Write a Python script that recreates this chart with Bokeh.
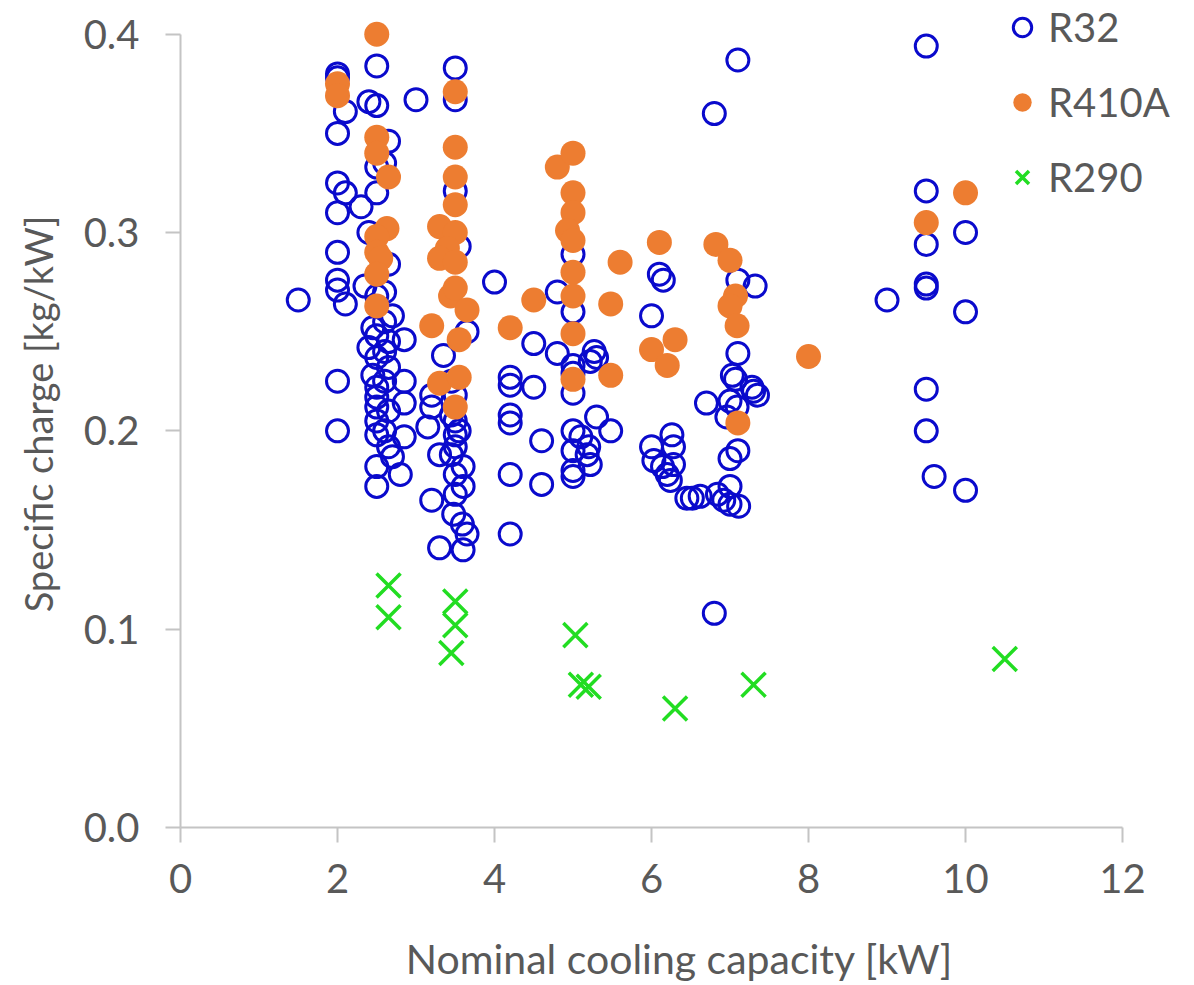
from bokeh.plotting import figure
from bokeh.models import Range1d, FixedTicker, PrintfTickFormatter
from bokeh.embed import file_html
from bokeh.resources import INLINE

# ---- data ----
r32_x = [1.5,
         2.0, 2.0, 2.1, 2.0, 2.0, 2.1, 2.0, 2.0, 2.0, 2.0, 2.1, 2.0, 2.0,
         2.4, 2.3, 2.4, 2.35, 2.4,
         2.5, 2.5, 2.5, 2.5, 2.5, 2.45, 2.5, 2.5, 2.45, 2.5, 2.5, 2.5, 2.5, 2.5, 2.5, 2.5,
         2.65, 2.6, 2.65, 2.6, 2.7, 2.6, 2.65, 2.6, 2.65, 2.6, 2.65, 2.6, 2.65, 2.7,
         2.85, 2.85, 2.85, 2.85, 2.8,
         3.0,
         3.35, 3.2, 3.2, 3.15, 3.3, 3.2, 3.3,
         3.5, 3.5, 3.5, 3.55, 3.65, 3.45, 3.5, 3.45, 3.5, 3.55, 3.5, 3.5, 3.45, 3.6, 3.5, 3.6, 3.5, 3.48, 3.59, 3.65, 3.6,
         4.0,
         4.2, 4.2, 4.2, 4.2, 4.2, 4.2,
         4.5, 4.5, 4.6, 4.6,
         4.8, 4.8,
         5.0, 5.0, 5.0, 5.0, 5.0, 5.0, 5.0, 5.0, 5.0,
         5.1, 5.2, 5.27, 5.3, 5.22, 5.3, 5.18, 5.22,
         5.48,
         6.1, 6.15, 6.0, 6.0, 6.03, 6.14, 6.2, 6.24, 6.28, 6.28, 6.26,
         6.8, 7.1, 7.1, 7.32, 7.1, 7.03, 7.07, 7.28, 7.3, 7.35, 6.7, 7.0, 7.09, 6.96, 7.1, 7.0,
         6.45, 6.52, 6.62, 6.84, 6.92, 7.0, 7.0, 7.11, 6.8,
         9.5, 9.5, 9.5, 10.0, 9.5, 9.5, 9.0, 10.0, 9.5, 9.5, 9.6, 10.0]
r32_y = [0.266,
         0.380, 0.378, 0.361, 0.350, 0.325, 0.320, 0.310, 0.290, 0.276, 0.271, 0.264, 0.225, 0.200,
         0.366, 0.313, 0.300, 0.273, 0.242,
         0.384, 0.364, 0.333, 0.320, 0.268, 0.252, 0.248, 0.237, 0.228, 0.222, 0.217, 0.212, 0.205, 0.198, 0.182, 0.172,
         0.346, 0.335, 0.284, 0.270, 0.258, 0.255, 0.245, 0.240, 0.232, 0.225, 0.210, 0.200, 0.192, 0.187,
         0.246, 0.225, 0.214, 0.197, 0.178,
         0.367,
         0.238, 0.218, 0.212, 0.202, 0.188, 0.165, 0.141,
         0.383, 0.367, 0.321, 0.293, 0.250, 0.225, 0.218, 0.208, 0.205, 0.200, 0.198, 0.192, 0.188, 0.182, 0.178, 0.172, 0.168, 0.158, 0.153, 0.148, 0.140,
         0.275,
         0.227, 0.223, 0.208, 0.204, 0.178, 0.148,
         0.244, 0.222, 0.195, 0.173,
         0.270, 0.239,
         0.289, 0.260, 0.233, 0.229, 0.219, 0.200, 0.190, 0.180, 0.177,
         0.197, 0.192, 0.240, 0.237, 0.235, 0.207, 0.188, 0.183,
         0.200,
         0.279, 0.276, 0.258, 0.192, 0.185, 0.182, 0.178, 0.175, 0.183, 0.192, 0.198,
         0.360, 0.387, 0.276, 0.273, 0.239, 0.228, 0.226, 0.222, 0.220, 0.218, 0.214, 0.215, 0.212, 0.207, 0.190, 0.186,
         0.166, 0.166, 0.167, 0.168, 0.165, 0.172, 0.163, 0.162, 0.108,
         0.394, 0.321, 0.294, 0.300, 0.274, 0.272, 0.266, 0.260, 0.221, 0.200, 0.177, 0.170]

r410a_x = [2.0, 2.0, 2.5, 2.5, 2.5, 2.65, 2.63, 2.5, 2.5, 2.55, 2.5, 2.5,
           3.5, 3.5, 3.5, 3.5, 3.3, 3.5, 3.4, 3.3, 3.5, 3.44, 3.5, 3.65, 3.2, 3.55, 3.3, 3.55, 3.5,
           4.2, 4.5, 4.8, 5.0, 5.0, 5.0, 4.93, 5.0, 5.0, 5.0, 5.0, 5.0, 5.48, 5.48, 5.6,
           6.1, 6.0, 6.3, 6.2, 6.82, 7.0, 7.07, 7.0, 7.09, 7.1, 8.0, 9.5, 10.0]
r410a_y = [0.375, 0.369, 0.400, 0.348, 0.340, 0.328, 0.302, 0.298, 0.290, 0.287, 0.279, 0.263,
           0.371, 0.343, 0.328, 0.314, 0.303, 0.300, 0.292, 0.287, 0.285, 0.268, 0.272, 0.261, 0.253, 0.246, 0.224, 0.227, 0.212,
           0.252, 0.266, 0.333, 0.340, 0.320, 0.310, 0.301, 0.296, 0.280, 0.268, 0.249, 0.226, 0.264, 0.228, 0.285,
           0.295, 0.241, 0.246, 0.233, 0.294, 0.286, 0.268, 0.263, 0.253, 0.204, 0.2375, 0.305, 0.320]

r290_x = [2.65, 2.65, 3.5, 3.5, 3.45, 5.03, 5.1, 5.2, 6.3, 7.3, 10.5]
r290_y = [0.122, 0.106, 0.114, 0.102, 0.088, 0.097, 0.072, 0.071, 0.060, 0.072, 0.085]

x_ticks = [0, 2, 4, 6, 8, 10, 12]
y_ticks = [0.0, 0.1, 0.2, 0.3, 0.4]

series_names = ["R32", "R410A", "R290"]

# ---- styling ----
TXT = "#595959"
AX = "#c4c4c4"
FONT = "Lato"

p = figure(width=1178, height=985,
           x_range=Range1d(0, 12.713), y_range=Range1d(0, 0.417),
           output_backend="svg", toolbar_location=None,
           min_border_left=180, min_border_right=0, min_border_top=0, min_border_bottom=152)
p.xgrid.visible = False
p.ygrid.visible = False
p.outline_line_color = None
p.background_fill_color = "white"
p.border_fill_color = "white"

p.scatter(r32_x, r32_y, marker="circle", size=22, fill_color=None,
          line_color="#0a0acc", line_width=3, legend_label=series_names[0])
p.scatter(r410a_x, r410a_y, marker="circle", size=25, fill_color="#ed7d31",
          line_color=None, legend_label=series_names[1])
p.scatter(r290_x, r290_y, marker="x", size=34, line_color="#22dd22",
          line_width=3.5, legend_label=series_names[2])

for ax in (p.xaxis[0], p.yaxis[0]):
    ax.axis_line_color = AX
    ax.axis_line_width = 2
    ax.major_tick_line_color = AX
    ax.major_tick_line_width = 2
    ax.major_tick_out = 15
    ax.major_tick_in = 0
    ax.minor_tick_line_color = None
    ax.major_label_text_font = FONT
    ax.major_label_text_font_size = "40px"
    ax.major_label_text_color = TXT
    ax.axis_label_text_font = FONT
    ax.axis_label_text_font_style = "normal"
    ax.axis_label_text_color = TXT

xa = p.xaxis[0]
xa.bounds = (0, 12)
xa.ticker = FixedTicker(ticks=x_ticks)
xa.axis_label = "Nominal cooling capacity [kW]"
xa.axis_label_text_font_size = "41px"
xa.major_label_standoff = 21
xa.axis_label_standoff = 38

ya = p.yaxis[0]
ya.bounds = (0, 0.4)
ya.ticker = FixedTicker(ticks=y_ticks)
ya.formatter = PrintfTickFormatter(format="%.1f")
ya.axis_label = "Specific charge [kg/kW]"
ya.axis_label_text_font_size = "38px"
ya.major_label_standoff = 26
ya.axis_label_standoff = 20

lg = p.legend[0]
lg.location = (819, 625)
lg.border_line_color = None
lg.background_fill_alpha = 0
lg.padding = 0
lg.margin = 0
lg.spacing = 25
lg.glyph_width = 46
lg.glyph_height = 50
lg.label_height = 50
lg.label_standoff = 3
lg.label_text_font = FONT
lg.label_text_font_size = "40px"
lg.label_text_color = TXT

open("out.html", "w").write(file_html(p, INLINE))
